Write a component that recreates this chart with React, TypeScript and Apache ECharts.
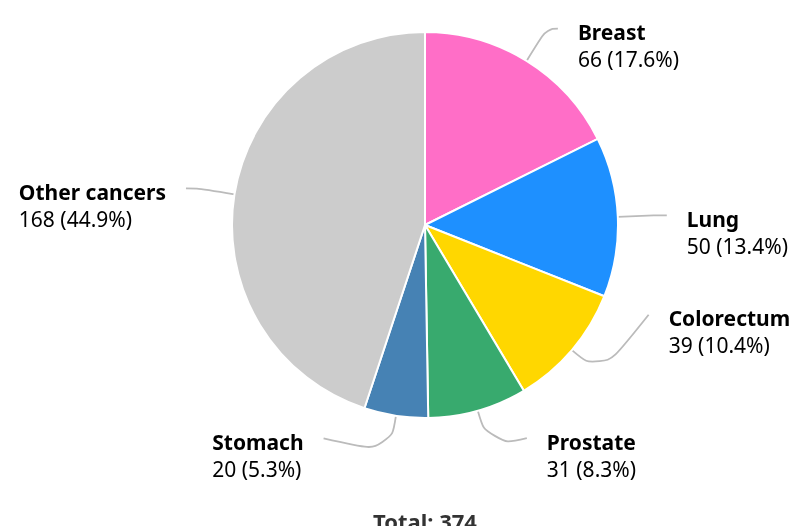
import React, { useEffect, useRef } from 'react';
import * as echarts from 'echarts';

const categories = ['Breast', 'Lung', 'Colorectum', 'Prostate', 'Stomach', 'Other cancers'];
const values = [66, 50, 39, 31, 20, 168];
const colors = ['#FF6EC7', '#1E90FF', '#FFD700', '#38AA6E', '#4682B4', '#CCCCCC'];
// vertical nudges of the label anchors (px), layout only
const labelShiftY = [0, 0, -60, -9, -15, 0];

const FONT = '"Noto Sans", "Open Sans", sans-serif';
const CX = 425;
const CY = 225;
const R = 193;
const LINE1 = 38;
const ELL_A = 242;
const ELL_B = 235;
const FS = 21;

export default function App() {
  const ref = useRef<HTMLDivElement>(null);
  useEffect(() => {
    if (!ref.current) return;
    const chart = echarts.init(ref.current, undefined, { renderer: 'svg' });
    const total = values.reduce((a, b) => a + b, 0);
    const data = categories.map((name, i) => ({ name, value: values[i], itemStyle: { color: colors[i] } }));

    const labelLayout = (params: any) => {
      const i = params.dataIndex;
      let before = 0;
      for (let k = 0; k < i; k++) before += values[k];
      const ang = ((before + values[i] / 2) / total) * Math.PI * 2;
      const dx = Math.sin(ang);
      const dy = -Math.cos(ang);
      const p0 = [CX + R * dx, CY + R * dy];
      const p1 = [p0[0] + LINE1 * dx, p0[1] + LINE1 * dy];
      const right = dx >= 0;
      const ey = p1[1] + labelShiftY[i];
      const t = Math.max(0, 1 - Math.pow((ey - CY) / ELL_B, 2));
      const ex = CX + (right ? 1 : -1) * ELL_A * Math.sqrt(t);
      const w = params.labelRect ? params.labelRect.width : 0;
      return {
        x: right ? ex + 20 : ex - 20 - w,
        y: ey - 10,
        align: 'left',
        verticalAlign: 'top',
        labelLinePoints: [p0, p1, [ex, ey]],
      };
    };

    chart.setOption({
      animation: false,
      textStyle: { fontFamily: FONT },
      graphic: [
        {
          type: 'text',
          x: CX,
          y: 521,
          style: {
            text: 'Total: ' + total,
            textAlign: 'center',
            textVerticalAlign: 'middle',
            align: 'center',
            verticalAlign: 'middle',
            fontSize: 22,
            fontWeight: 'bold',
            fontFamily: FONT,
            fill: '#333333',
          },
        },
      ],
      series: [
        {
          type: 'pie',
          center: [CX, CY],
          radius: R,
          startAngle: 90,
          clockwise: true,
          avoidLabelOverlap: false,
          itemStyle: { borderColor: '#ffffff', borderWidth: 2 },
          label: {
            show: true,
            position: 'outside',
            fontFamily: FONT,
            alignTo: 'none',
            formatter: (p: any) =>
              `{n|${p.name}}\n{v|${p.value} (${((p.value / total) * 100).toFixed(1)}%)}`,
            rich: {
              n: { fontWeight: 'bold', fontSize: FS, lineHeight: 27, color: '#000000', fontFamily: FONT, align: 'left' },
              v: { fontSize: FS, lineHeight: 27, color: '#000000', fontFamily: FONT, align: 'left' },
            },
          },
          labelLine: {
            show: true,
            length: LINE1,
            length2: 10,
            smooth: 0.5,
            lineStyle: { color: '#BBBBBB', width: 1.8 },
          },
          labelLayout,
          emphasis: { disabled: true },
          data,
        },
      ],
    });
    return () => chart.dispose();
  }, []);
  return <div ref={ref} style={{ position: 'fixed', left: 0, top: 0, width: 793, height: 526 }} />;
}
